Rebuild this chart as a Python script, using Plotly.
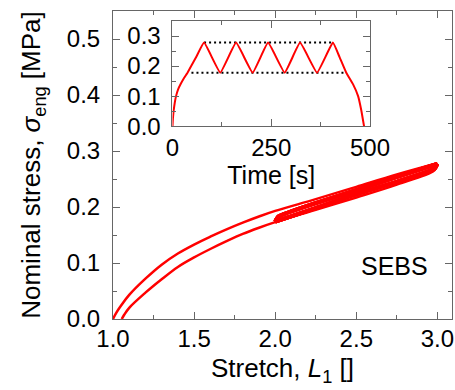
import plotly.graph_objects as go

# ---- main plot data: stretch vs nominal stress ----
load1_stretch = [1.00, 1.02, 1.05, 1.10, 1.20, 1.30, 1.40, 1.50, 1.60, 1.70, 1.80, 1.90, 2.00, 2.25, 2.50, 2.75, 3.00]
load1_stress = [0.000, 0.011, 0.024, 0.043, 0.072, 0.097, 0.117, 0.133, 0.147, 0.160, 0.172, 0.183, 0.193, 0.214, 0.236, 0.258, 0.278]

reload_stretch = [2.00, 2.02, 2.25, 2.50, 2.75, 3.00]
reload_stress = [0.174, 0.183, 0.207, 0.230, 0.254, 0.277]

unload_stretch = [3.00, 2.98, 2.75, 2.50, 2.25, 2.00]
unload_stress = [0.277, 0.268, 0.245, 0.223, 0.198, 0.174]

final_stretch = [3.00, 2.98, 2.75, 2.50, 2.25, 2.00, 1.90, 1.80, 1.70, 1.60, 1.50, 1.40, 1.30, 1.20, 1.10, 1.07, 1.054]
final_stress = [0.275, 0.265, 0.240, 0.217, 0.195, 0.173, 0.163, 0.152, 0.139, 0.125, 0.110, 0.093, 0.071, 0.047, 0.020, 0.008, 0.000]

# ---- inset data: time vs stress ----
inset_time = [0, 1, 3, 6, 9, 14, 21, 30, 38, 60, 80, 121, 161, 203, 242, 284, 323, 366, 406, 423, 440, 457, 470, 478, 485]
inset_stress = [0.000, 0.025, 0.053, 0.080, 0.100, 0.122, 0.141, 0.162, 0.178, 0.230, 0.278, 0.178, 0.278, 0.178, 0.278,
                0.178, 0.278, 0.178, 0.278, 0.230, 0.178, 0.140, 0.100, 0.053, 0.000]
upper_ref_time = [80, 406]
upper_ref_stress = [0.278, 0.278]
lower_ref_time = [48, 440]
lower_ref_stress = [0.178, 0.178]

x_ticks_main = [1.0, 1.5, 2.0, 2.5, 3.0]
y_ticks_main = [0.0, 0.1, 0.2, 0.3, 0.4, 0.5]
x_ticks_inset = [0, 250, 500]
y_ticks_inset = [0.0, 0.1, 0.2, 0.3]

RED = "#ff0000"
AX = "#666666"
FONT = "Liberation Sans, Arial, sans-serif"
TICK_SIZE = 24
TITLE_SIZE = 26

fig = go.Figure()
fig.add_trace(go.Scatter(x=load1_stretch, y=load1_stress, mode="lines",
                         line=dict(color=RED, width=2.5, shape="spline", smoothing=1), xaxis="x", yaxis="y"))
for _ in range(4):
    fig.add_trace(go.Scatter(x=unload_stretch, y=unload_stress, mode="lines",
                             line=dict(color=RED, width=4, shape="spline", smoothing=0.5), xaxis="x", yaxis="y"))
    fig.add_trace(go.Scatter(x=reload_stretch, y=reload_stress, mode="lines",
                             line=dict(color=RED, width=4, shape="spline", smoothing=0.5), xaxis="x", yaxis="y"))
fig.add_trace(go.Scatter(x=final_stretch, y=final_stress, mode="lines",
                         line=dict(color=RED, width=2.5, shape="spline", smoothing=1), xaxis="x", yaxis="y"))

fig.add_trace(go.Scatter(x=upper_ref_time, y=upper_ref_stress, mode="lines",
                         line=dict(color="black", width=2, dash="2px,3px"), xaxis="x2", yaxis="y2"))
fig.add_trace(go.Scatter(x=lower_ref_time, y=lower_ref_stress, mode="lines",
                         line=dict(color="black", width=2, dash="2px,3px"), xaxis="x2", yaxis="y2"))
fig.add_trace(go.Scatter(x=inset_time, y=inset_stress, mode="lines",
                         line=dict(color=RED, width=2, shape="spline", smoothing=0.3), xaxis="x2", yaxis="y2"))


def axis(ticks, fmt, minor_step, ticklen=7, **kw):
    return dict(showline=True, linecolor=AX, linewidth=1, mirror="ticks", ticks="inside",
                tickcolor=AX, tickwidth=1, showgrid=False, zeroline=False, ticklen=ticklen,
                automargin=False,
                tickmode="linear", tick0=ticks[0], dtick=ticks[1] - ticks[0], tickformat=fmt,
                minor=dict(ticks="inside", ticklen=4, dtick=minor_step, tick0=ticks[0], tickcolor=AX, showgrid=False),
                tickfont=dict(family=FONT, size=TICK_SIZE, color="black"), **kw)


fig.update_layout(
    width=455, height=390,
    margin=dict(l=113, r=3, t=11, b=71),
    paper_bgcolor="white", plot_bgcolor="white",
    showlegend=False,
    font=dict(family=FONT, size=TICK_SIZE, color="black"),
    xaxis=axis(x_ticks_main, ".1f", 0.25, range=[1.0, 3.09],
               title=dict(text="Stretch, <i>L</i><sub>1</sub> []", font=dict(family=FONT, size=TITLE_SIZE), standoff=8),
               ticklabelstandoff=-2, domain=[0, 1], anchor="y"),
    yaxis=axis(y_ticks_main, ".1f", 0.05, range=[0, 0.55],
               title=dict(text="Nominal stress, <i>σ</i><sub>eng</sub> [MPa]", font=dict(family=FONT, size=TITLE_SIZE), standoff=18),
               ticklabelstandoff=7, domain=[0, 1], anchor="x"),
    xaxis2=axis(x_ticks_inset, "d", 125, range=[0, 500],
                title=dict(text="Time [s]", font=dict(family=FONT, size=25), standoff=0),
                ticklabelstandoff=0, domain=[0.1755, 0.758], anchor="y2"),
    yaxis2=axis(y_ticks_inset, ".1f", 0.05, range=[0, 0.35],
                ticklabelstandoff=6, domain=[0.626, 0.9676], anchor="x2"),
    annotations=[dict(text="SEBS", x=2.957, y=0.095, xref="x", yref="y", xanchor="right", yanchor="middle",
                      showarrow=False, font=dict(family=FONT, size=25, color="black"))],
)

fig.write_html("out.html")
